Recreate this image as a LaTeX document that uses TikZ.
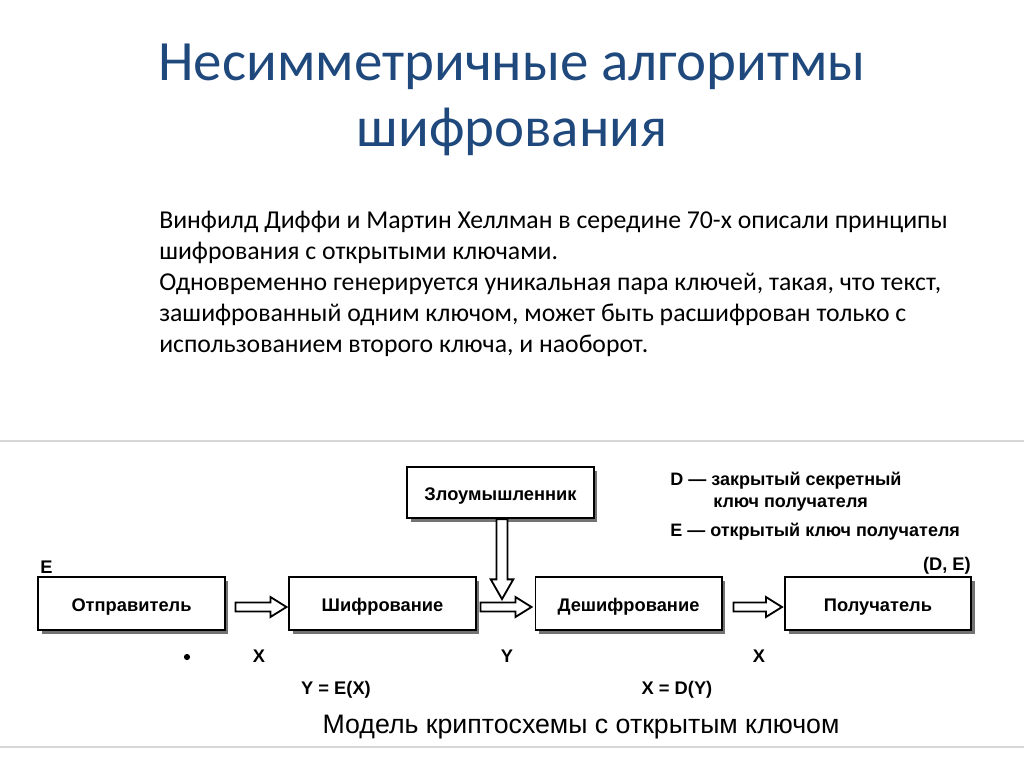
\documentclass[tikz,border=0pt]{standalone}
\usepackage{fontspec}
\setmainfont{Carlito}
\newfontfamily\diagfont{Liberation Sans}
\usetikzlibrary{calc, shadows}

\definecolor{titleblue}{RGB}{31,73,125}
\definecolor{framegray}{RGB}{215,215,215}

% hollow block arrows between two points
\newcommand\blockarrow[2]{%
  \draw[blockarr] let \p1=(#1), \p2=(#2) in
    (\x1,\y1+3.2pt) -- (\x2-11.4pt,\y1+3.2pt) -- (\x2-11.4pt,\y1+7.1pt) -- (\x2,\y1)
    -- (\x2-11.4pt,\y1-7.1pt) -- (\x2-11.4pt,\y1-3.2pt) -- (\x1,\y1-3.2pt) -- cycle;}
\newcommand\blockarrowdown[2]{%
  \draw[blockarr] let \p1=(#1), \p2=(#2) in
    (\x1-3.9pt,\y1) -- (\x1-3.9pt,\y2+14pt) -- (\x1-8pt,\y2+14pt) -- (\x1,\y2)
    -- (\x1+8pt,\y2+14pt) -- (\x1+3.9pt,\y2+14pt) -- (\x1+3.9pt,\y1) -- cycle;}

\begin{document}
\begin{tikzpicture}[
  x=0.025cm, y=-0.025cm,
  title/.style={text=titleblue, font=\fontsize{40.5}{44}\selectfont, inner sep=0pt},
  body/.style={font=\fontsize{18.3}{22}\selectfont, align=left, inner sep=0pt},
  box/.style={draw, line width=1.4pt, fill=white, minimum width=4.65cm, minimum height=1.32cm,
    text height=12pt, text depth=1pt,
    font=\diagfont\bfseries\fontsize{13}{15}\selectfont,
    drop shadow={shadow xshift=2.5pt, shadow yshift=-3pt, fill=black!55, opacity=1}},
  blockarr/.style={draw, line width=1.3pt, fill=white},
  lbl/.style={font=\diagfont\bfseries\fontsize{13}{15}\selectfont, inner sep=0pt},
  legend/.style={font=\diagfont\bfseries\fontsize{12.8}{15}\selectfont, inner sep=0pt}
]
  \useasboundingbox (0,0) rectangle (1024,767);

  % ----- Title and text -----
  \node[title, anchor=base] (ttl1) at (512,81) {Несимметричные алгоритмы};
  \node[title, anchor=base] (ttl2) at (512,147) {шифрования};
  \node[body, anchor=base west] (txt) at (159,352) {Винфилд Диффи и Мартин Хеллман в середине 70-х описали принципы\\
    шифрования с открытыми ключами.\\
    Одновременно генерируется уникальная пара ключей, такая, что текст,\\
    зашифрованный одним ключом, может быть расшифрован только с\\
    использованием второго ключа, и наоборот.};

  % ----- Frame of the scheme -----
  \draw[framegray, line width=1pt] (0,441) -- (1024,441);
  \draw[framegray, line width=1pt] (0,747) -- (1024,747);

  % ----- Boxes -----
  \node[box] (snd) at (131.5,603.5) {Отправитель};
  \node[box] (enc) at (382.5,603.5) {Шифрование};
  \node[box] (dec) at (628.5,603.5) {Дешифрование};
  \node[box] (rcv) at (878,603.5)   {Получатель};
  \node[box, minimum height=1.28cm] (atk) at (500.5,492.5) {Злоумышленник};

  % ----- Arrows -----
  \blockarrow{$(snd.east)+(10,3.5)$}{$(enc.west)+(-2,3.5)$}
  \blockarrow{$(enc.east)+(4,3.5)$}{$(dec.west)+(-3,3.5)$}
  \blockarrow{$(dec.east)+(11,3.5)$}{$(rcv.west)+(-2,3.5)$}
  \blockarrowdown{$(atk.south)+(1.5,0)$}{$(atk.south)+(1.5,80)$}

  % ----- Labels -----
  \node[lbl, anchor=base west] (lE) at (40,573) {E};
  \node[lbl, anchor=base east] (lDE) at (971,570) {(D, E)};
  \fill (187,657) circle (2.2pt);
  \node[lbl, anchor=base] (lX1) at (259,662) {X};
  \node[lbl, anchor=base] (lY)  at (507,662) {Y};
  \node[lbl, anchor=base] (lX2) at (759,662) {X};
  \node[lbl, anchor=base] (fenc) at (336,694) {Y = E(X)};
  \node[lbl, anchor=base] (fdec) at (677,694) {X = D(Y)};
  \node[font=\diagfont\fontsize{19}{22}\selectfont, anchor=base, inner sep=0pt] (cap) at (581,733)
    {Модель криптосхемы с открытым ключом};

  % ----- Legend -----
  \node[legend, anchor=base west] (kD) at (670,485) {D — закрытый секретный};
  \node[legend, anchor=base west] (kD2) at (713,507) {ключ получателя};
  \node[legend, anchor=base west] (kE) at (670,536) {E — открытый ключ получателя};
\end{tikzpicture}
\end{document}
